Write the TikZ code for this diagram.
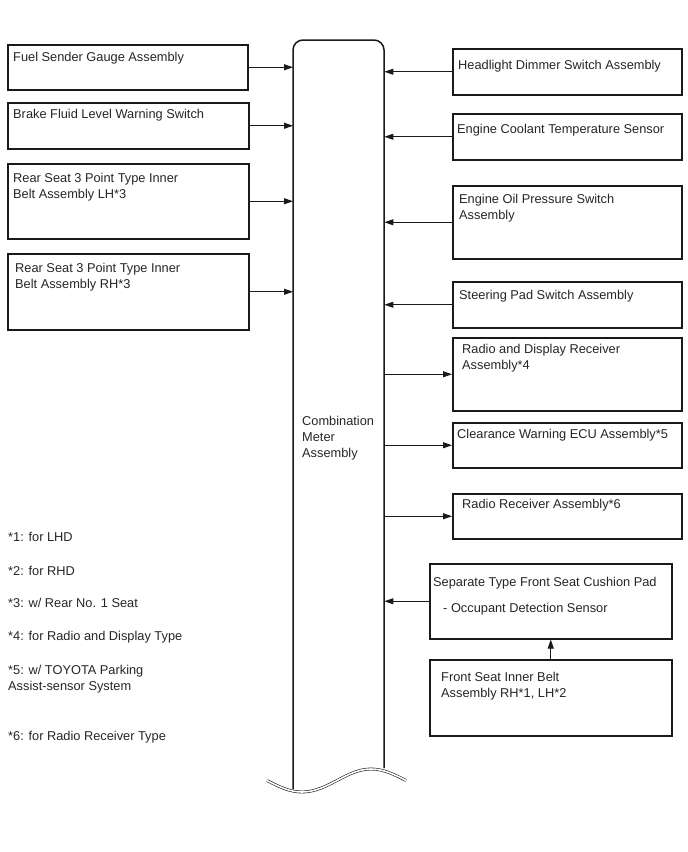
\documentclass[tikz,border=0pt]{standalone}
\usepackage{fontspec}
\setmainfont{Liberation Sans}
\usetikzlibrary{arrows.meta}
\definecolor{ink}{HTML}{1A1A1A}
\definecolor{txt}{HTML}{262626}
\tikzset{
  box/.style={draw=ink, line width=1.5pt, inner sep=0pt, anchor=north west, fill=white},
  lbl/.style={anchor=base west, inner sep=0pt, align=left, text=txt, font=\fontsize{12.8}{16}\selectfont},
  conn/.style={draw=ink, line width=0.9pt, -{Triangle[length=9pt,width=6pt]}},
  outline/.style={draw=ink, line width=1.5pt},
}
\begin{document}
\begin{tikzpicture}[x=1pt, y=-1pt]
\useasboundingbox (0,0) rectangle (688,852);
\fill[white] (0,0) rectangle (688,852);
% combination meter
\node[inner sep=0pt, minimum width=91pt, minimum height=750pt, anchor=north west] (meter) at (293,40) {};
\draw[outline] (293,789) -- (293,50) arc[start angle=180, end angle=90, radius=10pt] -- (374,40) arc[start angle=90, end angle=0, radius=10pt] -- (384,768);
\draw[draw=ink, line width=0.6pt, double=white, double distance=1.6pt] (267,780.5) sin (302,792) cos (337,780.5) sin (371,769) cos (406,780.5);
\node[lbl] (meterlbl) at (302,457) {Combination\\Meter\\Assembly};

% left boxes
\node[box, minimum width=240pt, minimum height=45pt] (fuel) at (7,44) {};
\node[lbl] (fuellbl) at (13,61) {Fuel Sender Gauge Assembly};
\node[box, minimum width=241pt, minimum height=46pt] (brake) at (7,102) {};
\node[lbl] (brakelbl) at (13,118) {Brake Fluid Level Warning Switch};
\node[box, minimum width=241pt, minimum height=75pt] (lh) at (7,163) {};
\node[lbl] (lhlbl) at (13,198) {Rear Seat 3 Point Type Inner\\Belt Assembly LH*3};
\node[box, minimum width=241pt, minimum height=76pt] (rh) at (7,253) {};
\node[lbl] (rhlbl) at (15,288) {Rear Seat 3 Point Type Inner\\Belt Assembly RH*3};

% right boxes
\node[box, minimum width=229pt, minimum height=46pt] (head) at (452,48) {};
\node[lbl] (headlbl) at (458,69) {Headlight Dimmer Switch Assembly};
\node[box, minimum width=229pt, minimum height=46pt] (cool) at (452,113) {};
\node[lbl] (coollbl) at (457,133) {Engine Coolant Temperature Sensor};
\node[box, minimum width=229pt, minimum height=73pt] (oil) at (452,185) {};
\node[lbl] (oillbl) at (459,219) {Engine Oil Pressure Switch\\Assembly};
\node[box, minimum width=229pt, minimum height=46pt] (steer) at (452,281) {};
\node[lbl] (steerlbl) at (459,299) {Steering Pad Switch Assembly};
\node[box, minimum width=229pt, minimum height=73pt] (radiod) at (452,337) {};
\node[lbl] (radiodlbl) at (462,369) {Radio and Display Receiver\\Assembly*4};
\node[box, minimum width=229pt, minimum height=45pt] (clear) at (452,422) {};
\node[lbl] (clearlbl) at (457,438) {Clearance Warning ECU Assembly*5};
\node[box, minimum width=229pt, minimum height=45pt] (radio) at (452,493) {};
\node[lbl] (radiolbl) at (462,508) {Radio Receiver Assembly*6};
\node[box, minimum width=242pt, minimum height=75pt] (cushion) at (429,563) {};
\node[lbl] (cushionlbl) at (433,586) {Separate Type Front Seat Cushion Pad};
\node[lbl] (cushionlbl2) at (443,612) {- Occupant Detection Sensor};
\node[box, minimum width=242pt, minimum height=76pt] (belt) at (429,659) {};
\node[lbl] (beltlbl) at (441,697) {Front Seat Inner Belt\\Assembly RH*1, LH*2};

% connectors into meter
\foreach \n in {fuel,brake,lh,rh}
  \draw[conn] (\n.east) -- (\n.east -| meter.west);
\foreach \n in {head,cool,oil,steer,cushion}
  \draw[conn] (\n.west) -- (\n.west -| meter.east);
\foreach \n in {radiod,clear,radio}
  \draw[conn] (\n.west -| meter.east) -- (\n.west);
\draw[conn] (belt.north) -- (cushion.south);

% footnotes
\node[lbl] (n1) at (8,541) {*1: for LHD};
\node[lbl] (n2) at (8,575) {*2: for RHD};
\node[lbl] (n3) at (8,607) {*3: w/ Rear No. 1 Seat};
\node[lbl] (n4) at (8,640) {*4: for Radio and Display Type};
\node[lbl] (n5) at (8,690) {*5: w/ TOYOTA Parking\\Assist-sensor System};
\node[lbl] (n6) at (8,740) {*6: for Radio Receiver Type};
\end{tikzpicture}
\end{document}
